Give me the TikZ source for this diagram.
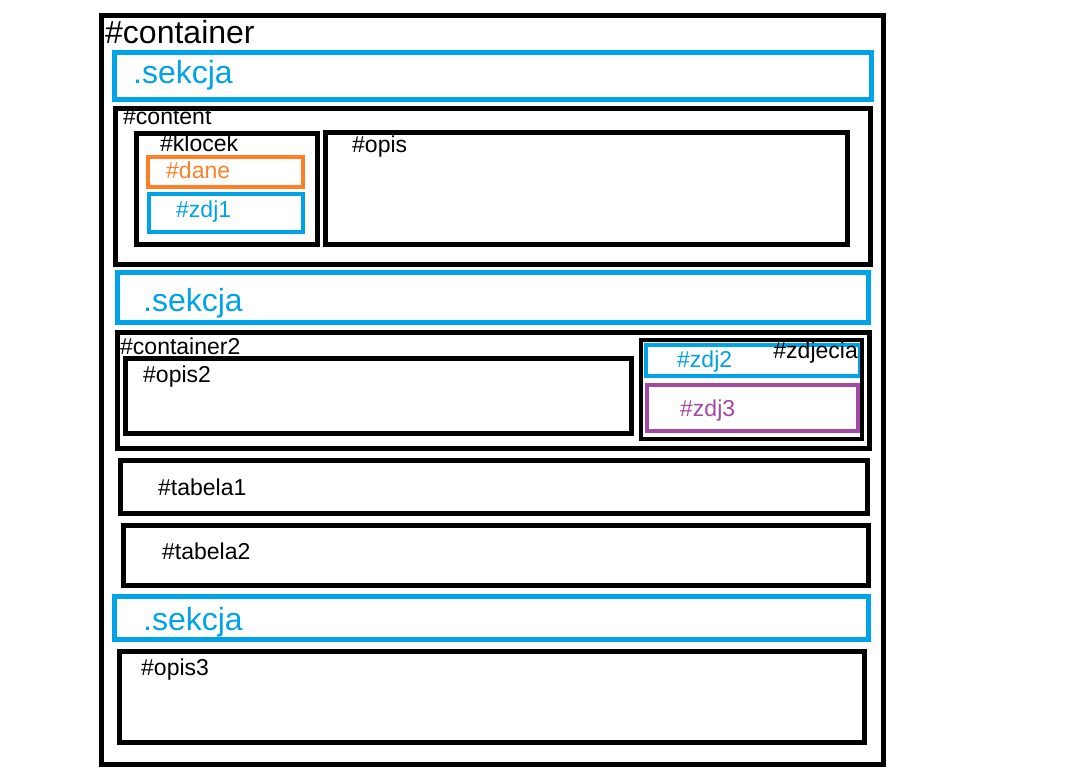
\documentclass[tikz,border=0pt]{standalone}
\usepackage{fontspec}
\setmainfont{Liberation Sans}
\usetikzlibrary{positioning}

\definecolor{paintblue}{RGB}{0,162,232}
\definecolor{paintorange}{RGB}{255,127,39}
\definecolor{paintpurple}{RGB}{163,73,164}

\begin{document}
\begin{tikzpicture}[
    x=1pt, y=-1pt,
    frame/.style={draw=black, line width=4.5pt},
    sekcjabox/.style={draw=paintblue, line width=4.5pt},
    lbl/.style={inner sep=0pt, anchor=base west, font=\fontsize{23}{27}\selectfont},
    biglbl/.style={lbl, font=\fontsize{32}{37}\selectfont},
    ]

    \useasboundingbox[fill=white] (0,0) rectangle (1068,775);

    % outer container
    \draw[frame] (101.5,15.5) rectangle (883.5,764.5);
    \node[biglbl] (container) at (105,44) {\#container};

    % first section
    \draw[sekcjabox] (114.5,52.5) rectangle (871.5,99.5);
    \node[biglbl, text=paintblue] (sekcja1) at (133,84) {.sekcja};

    % content block
    \draw[frame] (115.5,108.5) rectangle (870.5,264.5);
    \node[lbl] (content) at (123,125) {\#content};
    \draw[frame] (136.5,133.5) rectangle (317.5,244.5);
    \node[lbl] (klocek) at (160,152) {\#klocek};
    \draw[draw=paintorange, line width=4pt] (148,157) rectangle (303,187);
    \node[lbl, text=paintorange] (dane) at (166,179) {\#dane};
    \draw[draw=paintblue, line width=4pt] (149,194) rectangle (303,232);
    \node[lbl, text=paintblue] (zdj1) at (176,218) {\#zdj1};
    \draw[frame] (325.5,132.5) rectangle (847.5,244.5);
    \node[lbl] (opis) at (352,153) {\#opis};

    % second section
    \draw[sekcjabox] (117.5,272.5) rectangle (868.5,322.5);
    \node[biglbl, text=paintblue] (sekcja2) at (143,312) {.sekcja};

    % container2
    \draw[frame] (117.5,332.5) rectangle (869.5,448.5);
    \node[lbl] (container2) at (120,355) {\#container2};
    \draw[frame] (125.5,358.5) rectangle (631.5,433.5);
    \node[lbl] (opis2) at (143,382) {\#opis2};
    \draw[draw=paintblue, line width=4pt] (646,345) rectangle (860,376);
    \draw[draw=paintpurple, line width=4pt] (647,385) rectangle (858,431);
    \draw[frame, line width=4pt] (641,340) rectangle (862,439);
    \node[lbl, text=paintblue] (zdj2) at (677,368) {\#zdj2};
    \node[lbl, anchor=base east] (zdjecia) at (858,359) {\#zdjecia};
    \node[lbl, text=paintpurple] (zdj3) at (680,417) {\#zdj3};

    % tables
    \draw[frame] (120.5,460.5) rectangle (867.5,513.5);
    \node[lbl] (tabela1) at (158,495) {\#tabela1};
    \draw[frame] (123.5,525.5) rectangle (868.5,585.5);
    \node[lbl] (tabela2) at (162,559) {\#tabela2};

    % third section
    \draw[sekcjabox] (114.5,596.5) rectangle (868.5,639.5);
    \node[biglbl, text=paintblue] (sekcja3) at (143,630) {.sekcja};

    \draw[frame] (119.5,651.5) rectangle (864.5,742.5);
    \node[lbl] (opis3) at (141,675) {\#opis3};
\end{tikzpicture}
\end{document}
